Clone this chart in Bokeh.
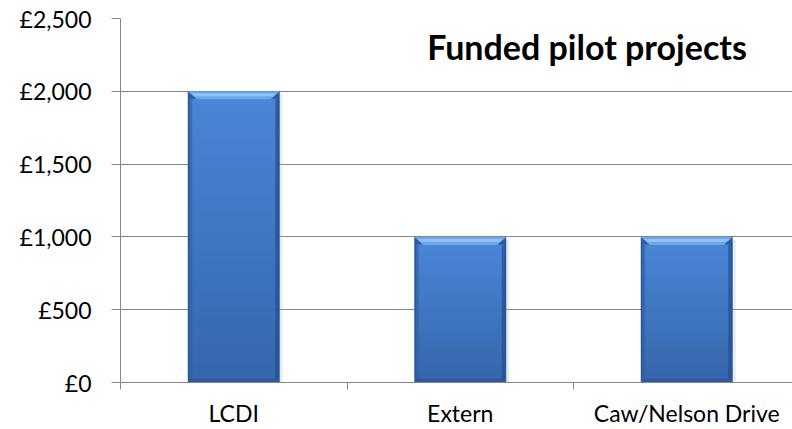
import numpy as np
from bokeh.plotting import figure
from bokeh.models import FixedTicker, Label
from bokeh.embed import file_html
from bokeh.resources import INLINE

# ---- data ----
categories = ["LCDI", "Extern", "Caw/Nelson Drive"]
values = [2000, 1000, 1000]
y_ticks = [0, 500, 1000, 1500, 2000, 2500]
y_tick_labels = ["£0", "£500", "£1,000", "£1,500", "£2,000", "£2,500"]
chart_title = "Funded pilot projects"

# ---- layout ----
W, H = 792, 429
left, top, bottom = 120, 18, 47
frame_w = W - left
frame_h = H - top - bottom
cat_px = 226.5
x_max = frame_w / cat_px
y_max = 2500
ux = 1.0 / cat_px            # data units per pixel (x)
uy = y_max / frame_h         # data units per pixel (y)

FONT = "Lato"
GRID = "#868686"

p = figure(width=W, height=H, x_range=(0, x_max), y_range=(0, y_max),
           output_backend="svg", toolbar_location=None,
           min_border_left=left, min_border_right=0,
           min_border_top=top, min_border_bottom=bottom)
p.outline_line_color = None
p.background_fill_color = "white"
p.border_fill_color = "white"
p.xgrid.visible = False
p.ygrid.ticker = FixedTicker(ticks=y_ticks)
p.ygrid.grid_line_color = GRID
p.ygrid.grid_line_width = 1

# y axis
p.yaxis.ticker = FixedTicker(ticks=y_ticks, minor_ticks=[])
p.yaxis.major_label_overrides = {t: l for t, l in zip(y_ticks, y_tick_labels)}
p.yaxis.axis_line_color = GRID
p.yaxis.major_tick_line_color = GRID
p.yaxis.major_tick_out = 9
p.yaxis.major_tick_in = 0
p.yaxis.major_label_standoff = 20
p.yaxis.major_label_text_font = FONT
p.yaxis.major_label_text_font_size = "23px"
p.yaxis.major_label_text_color = "black"

# x axis
xpos = [i + 0.5 for i in range(len(categories))]
p.xaxis.ticker = FixedTicker(ticks=xpos, minor_ticks=list(range(len(categories) + 1)))
p.xaxis.major_label_overrides = {x: c for x, c in zip(xpos, categories)}
p.xaxis.axis_line_color = GRID
p.xaxis.major_tick_out = 0
p.xaxis.major_tick_in = 0
p.xaxis.minor_tick_out = 7
p.xaxis.minor_tick_in = 0
p.xaxis.minor_tick_line_color = GRID
p.xaxis.major_label_standoff = 9
p.xaxis.major_label_text_font = FONT
p.xaxis.major_label_text_font_size = "23px"
p.xaxis.major_label_text_color = "black"

# ---- bars (simulated gradient / bevel) ----
bw = 92 * ux
hw = bw / 2
xs = np.array(xpos)
vals = np.array(values, dtype=float)

# shadow
p.vbar(x=xs + 3 * ux, top=vals - 3 * uy, bottom=0, width=bw,
       fill_color="#b0b0b0", fill_alpha=0.25, line_color=None)
# outer dark body
p.vbar(x=xs, top=vals, bottom=0, width=bw, fill_color="#2A5B9E", line_color=None)

# gradient body slices
def lerp(c1, c2, t):
    a = [int(c1[i:i + 2], 16) for i in (1, 3, 5)]
    b = [int(c2[i:i + 2], 16) for i in (1, 3, 5)]
    return "#%02x%02x%02x" % tuple(int(round(a[k] + (b[k] - a[k]) * t)) for k in range(3))

n = 40
ql, qr, qb, qt, qc = [], [], [], [], []
for x, v in zip(xs, vals):
    y0 = 4 * uy
    y1 = v - 8 * uy
    edges = np.linspace(y0, y1, n + 1)
    for k in range(n):
        t = k / (n - 1)
        ql.append(x - hw + 2 * ux)
        qr.append(x + hw - 2 * ux)
        qb.append(edges[k])
        qt.append(edges[k + 1] + 0.5 * uy)
        qc.append(lerp("#3767AD", "#4A85D6", t))
p.quad(left=ql, right=qr, bottom=qb, top=qt, fill_color=qc, line_color=None)

# side darker strips
p.vbar(x=xs - hw + 3 * ux, top=vals - 8 * uy, bottom=4 * uy, width=3 * ux,
       fill_color="#2F609F", fill_alpha=0.6, line_color=None)
p.vbar(x=xs + hw - 3 * ux, top=vals - 8 * uy, bottom=4 * uy, width=3 * ux,
       fill_color="#234F8C", fill_alpha=0.7, line_color=None)

# top bevel trapezoid
px, py = [], []
for x, v in zip(xs, vals):
    px.append([x - hw, x + hw, x + hw - 9 * ux, x - hw + 9 * ux])
    py.append([v, v, v - 8 * uy, v - 8 * uy])
p.patches(px, py, fill_color="#6CA6EC", line_color=None)
# highlight band within bevel
hx, hy = [], []
for x, v in zip(xs, vals):
    hx.append([x - hw + 3 * ux, x + hw - 3 * ux, x + hw - 7 * ux, x - hw + 7 * ux])
    hy.append([v - 2 * uy, v - 2 * uy, v - 5 * uy, v - 5 * uy])
p.patches(hx, hy, fill_color="#8DC2F8", line_color=None)

# ---- title inside plot ----
p.add_layout(Label(x=(586.5 - left) / cat_px, y=(frame_h + top - 46) * uy,
                   text=chart_title, text_font=FONT, text_font_style="bold",
                   text_font_size="34px", text_align="center",
                   text_baseline="alphabetic", text_color="black"))

open("out.html", "w").write(file_html(p, INLINE))
